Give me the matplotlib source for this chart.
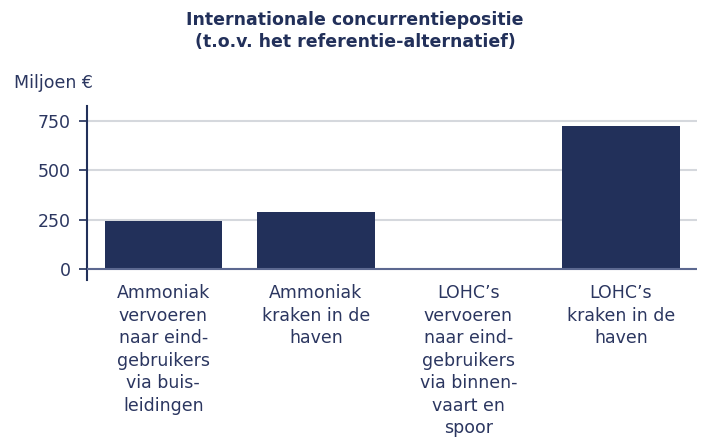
import numpy as np
import matplotlib.pyplot as plt

# data
categorieen = [
    "Ammoniak\nvervoeren\nnaar eind-\ngebruikers\nvia buis-\nleidingen",
    "Ammoniak\nkraken in de\nhaven",
    "LOHC's\nvervoeren\nnaar eind-\ngebruikers\nvia binnen-\nvaart en\nspoor",
    "LOHC's\nkraken in de\nhaven",
]
waarden = [245, 290, 0, 725]
yticks = [0, 250, 500, 750]

navy = "#22305a"
tekst = "#2b3660"

plt.rcParams['font.family'] = ['DejaVu Sans']

fig = plt.figure(figsize=(7.02, 4.37), dpi=100)
ax = fig.add_axes([0.124, 0.359, 0.869, 0.399])

x = np.arange(len(categorieen))
ax.bar(x, waarden, width=0.77, color=navy, zorder=3)

ax.set_xlim(-0.5, 3.5)
ax.set_ylim(-56, 828)
ax.set_yticks(yticks)
ax.set_yticklabels([str(v) for v in yticks], fontsize=12.5, color=tekst)
ax.yaxis.grid(True, color="#d5d8dd", lw=1.5, zorder=0)
ax.axhline(0, color="#5c6890", lw=1.5, zorder=4)

ax.set_xticks(x)
ax.set_xticklabels([c.replace("'", "\u2019") for c in categorieen],
                   fontsize=12.5, color=tekst, linespacing=1.32, va='top')
ax.tick_params(axis='x', length=0, pad=3)
ax.tick_params(axis='y', length=6, width=1.2, color=navy, pad=6)

for s in ['top', 'right', 'bottom']:
    ax.spines[s].set_visible(False)
ax.spines['left'].set_color(navy)
ax.spines['left'].set_linewidth(1.5)

fig.text(0.506, 0.929, "Internationale concurrentiepositie\n(t.o.v. het referentie-alternatief)",
         ha='center', va='center', fontsize=12.5, fontweight='bold', color=navy, linespacing=1.25)
fig.text(0.02, 0.81, "Miljoen \u20ac", ha='left', va='center', fontsize=12.5, color=tekst)

fig.savefig("out.png", dpi=100)
